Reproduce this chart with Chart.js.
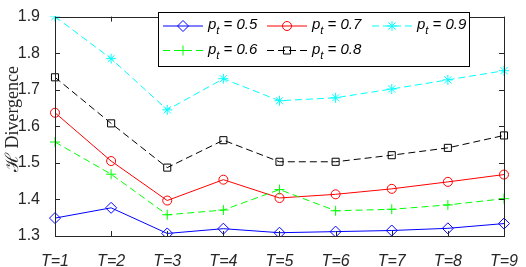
<!DOCTYPE html>
<html>
<head>
<meta charset="utf-8">
<script src="https://cdn.jsdelivr.net/npm/chart.js@4.4.0/dist/chart.umd.min.js"></script>
<style>
  body { margin: 0; background: #fff; }
  canvas { display: block; }
</style>
</head>
<body>
<canvas id="myChart" width="526" height="267"></canvas>
<script>
// data
const categories = ['T=1', 'T=2', 'T=3', 'T=4', 'T=5', 'T=6', 'T=7', 'T=8', 'T=9'];
const yTicks = [1.3, 1.4, 1.5, 1.6, 1.7, 1.8, 1.9];
const seriesNames = ['0.5', '0.6', '0.7', '0.8', '0.9'];
const p05 = [1.349, 1.377, 1.307, 1.320, 1.309, 1.312, 1.315, 1.321, 1.334];
const p06 = [1.557, 1.469, 1.358, 1.371, 1.427, 1.369, 1.373, 1.385, 1.402];
const p07 = [1.637, 1.505, 1.397, 1.454, 1.404, 1.414, 1.429, 1.448, 1.468];
const p08 = [1.734, 1.608, 1.487, 1.562, 1.503, 1.503, 1.521, 1.541, 1.575];
const p09 = [1.900, 1.785, 1.645, 1.730, 1.670, 1.678, 1.702, 1.727, 1.752];

const axisColor = '#262626';

// estilo de cada serie (cor, marcador, tracejado)
const styles = [
    { color: '#0000ff', marker: 'rectRot', radius: 5.5, dash: [] },
    { color: '#00ff00', marker: 'cross', radius: 5, dash: [7, 4] },
    { color: '#ff0000', marker: 'circle', radius: 4.5, dash: [] },
    { color: '#000000', marker: 'rect', radius: 5, dash: [7, 4] },
    { color: '#00ffff', marker: 'star', radius: 5, dash: [7, 4] }
];
const allValues = [p05, p06, p07, p08, p09];

const datasets = allValues.map(function (vals, i) {
    const s = styles[i];
    return {
        label: 'p_t = ' + seriesNames[i],
        data: vals,
        borderColor: s.color,
        backgroundColor: 'rgba(0,0,0,0)',
        borderWidth: 1,
        borderDash: s.dash,
        pointStyle: s.marker,
        pointRadius: s.radius,
        pointBorderColor: s.color,
        pointBackgroundColor: 'rgba(0,0,0,0)',
        pointBorderWidth: 1,
        tension: 0
    };
});

function drawMarker(ctx, type, x, y, r) {
    ctx.beginPath();
    if (type === 'rectRot') {
        ctx.moveTo(x, y - r); ctx.lineTo(x + r, y); ctx.lineTo(x, y + r); ctx.lineTo(x - r, y); ctx.closePath();
    } else if (type === 'circle') {
        ctx.arc(x, y, r, 0, Math.PI * 2);
    } else if (type === 'rect') {
        const h = r * Math.SQRT1_2;
        ctx.rect(x - h, y - h, 2 * h, 2 * h);
    } else if (type === 'cross') {
        ctx.moveTo(x - r, y); ctx.lineTo(x + r, y); ctx.moveTo(x, y - r); ctx.lineTo(x, y + r);
    } else if (type === 'star') {
        ctx.moveTo(x - r, y); ctx.lineTo(x + r, y); ctx.moveTo(x, y - r); ctx.lineTo(x, y + r);
        const d = r * Math.SQRT1_2;
        ctx.moveTo(x - d, y - d); ctx.lineTo(x + d, y + d); ctx.moveTo(x - d, y + d); ctx.lineTo(x + d, y - d);
    }
    ctx.stroke();
}

const boxPlugin = {
    id: 'boxPlugin',
    afterDraw: function (chart) {
        const ctx = chart.ctx;
        const a = chart.chartArea;
        const xs = chart.scales.x;
        const ys = chart.scales.y;
        ctx.save();
        ctx.strokeStyle = axisColor;
        ctx.lineWidth = 1;
        ctx.setLineDash([]);
        ctx.strokeRect(Math.round(a.left) + 0.5, Math.round(a.top) + 0.5, Math.round(a.right - a.left), Math.round(a.bottom - a.top));
        ctx.beginPath();
        for (let i = 0; i < categories.length; i++) {
            const px = Math.round(xs.getPixelForTick(i)) + 0.5;
            ctx.moveTo(px, a.bottom); ctx.lineTo(px, a.bottom - 5);
            ctx.moveTo(px, a.top); ctx.lineTo(px, a.top + 5);
        }
        yTicks.forEach(function (v) {
            const py = Math.round(ys.getPixelForValue(v)) + 0.5;
            ctx.moveTo(a.left, py); ctx.lineTo(a.left + 5, py);
            ctx.moveTo(a.right, py); ctx.lineTo(a.right - 5, py);
        });
        ctx.stroke();

        // y axis title
        ctx.save();
        ctx.translate(13, 119);
        ctx.rotate(-Math.PI / 2);
        ctx.fillStyle = axisColor;
        ctx.font = '18px "Liberation Serif", serif';
        ctx.textAlign = 'center';
        ctx.textBaseline = 'middle';
        ctx.fillText('\u210B Divergence', 0, 0);
        ctx.restore();

        // legenda (3 colunas, preenchida por coluna)
        const lx = 158.5, ly = 12.5, lw = 311, lh = 54;
        ctx.fillStyle = '#ffffff';
        ctx.fillRect(lx, ly, lw, lh);
        ctx.strokeStyle = '#000000';
        ctx.strokeRect(lx, ly, lw, lh);
        const colX = [163, 267, 372];
        const rowY = [26, 50.5];
        for (let i = 0; i < datasets.length; i++) {
            const s = styles[i];
            const x0 = colX[Math.floor(i / 2)];
            const y0 = rowY[i % 2];
            ctx.strokeStyle = s.color;
            ctx.lineWidth = 1;
            ctx.setLineDash(s.dash);
            ctx.beginPath();
            ctx.moveTo(x0, y0); ctx.lineTo(x0 + 40, y0);
            ctx.stroke();
            ctx.setLineDash([]);
            drawMarker(ctx, s.marker, x0 + 20, y0, s.radius);
            ctx.fillStyle = '#000000';
            ctx.textBaseline = 'middle';
            ctx.textAlign = 'left';
            let tx = x0 + 45;
            ctx.font = 'italic 15px "Liberation Sans", Arial, sans-serif';
            ctx.fillText('p', tx, y0 - 1);
            tx += ctx.measureText('p').width;
            ctx.font = 'italic 11px "Liberation Sans", Arial, sans-serif';
            ctx.fillText('t', tx, y0 + 5);
            tx += ctx.measureText('t').width;
            ctx.font = 'italic 15px "Liberation Sans", Arial, sans-serif';
            ctx.fillText(' = ' + seriesNames[i], tx, y0 - 1);
        }
        ctx.restore();
    }
};

const ctx = document.getElementById('myChart').getContext('2d');
const myChart = new Chart(ctx, {
    type: 'line',
    data: {
        labels: categories,
        datasets: datasets
    },
    options: {
        responsive: false,
        animation: false,
        layout: { padding: { left: 0, top: 11, right: 18, bottom: 0 } },
        plugins: {
            legend: { display: false },
            tooltip: { enabled: false }
        },
        scales: {
            x: {
                type: 'category',
                offset: false,
                grid: { display: false },
                border: { display: false },
                ticks: {
                    color: axisColor,
                    padding: 8,
                    maxRotation: 0,
                    font: { family: '"Liberation Sans", Arial, sans-serif', size: 16, style: 'italic' }
                },
                afterFit: function (scale) { scale.height = 31; }
            },
            y: {
                min: 1.3,
                max: 1.9,
                grid: { display: false },
                border: { display: false },
                afterBuildTicks: function (scale) {
                    scale.ticks = yTicks.map(function (v) { return { value: v }; });
                },
                ticks: {
                    color: axisColor,
                    padding: 7,
                    font: { family: '"Liberation Sans", Arial, sans-serif', size: 16 },
                    callback: function (v) { return Number(v).toFixed(1); }
                },
                afterFit: function (scale) { scale.width = 55; }
            }
        }
    },
    plugins: [boxPlugin]
});
</script>
</body>
</html>
